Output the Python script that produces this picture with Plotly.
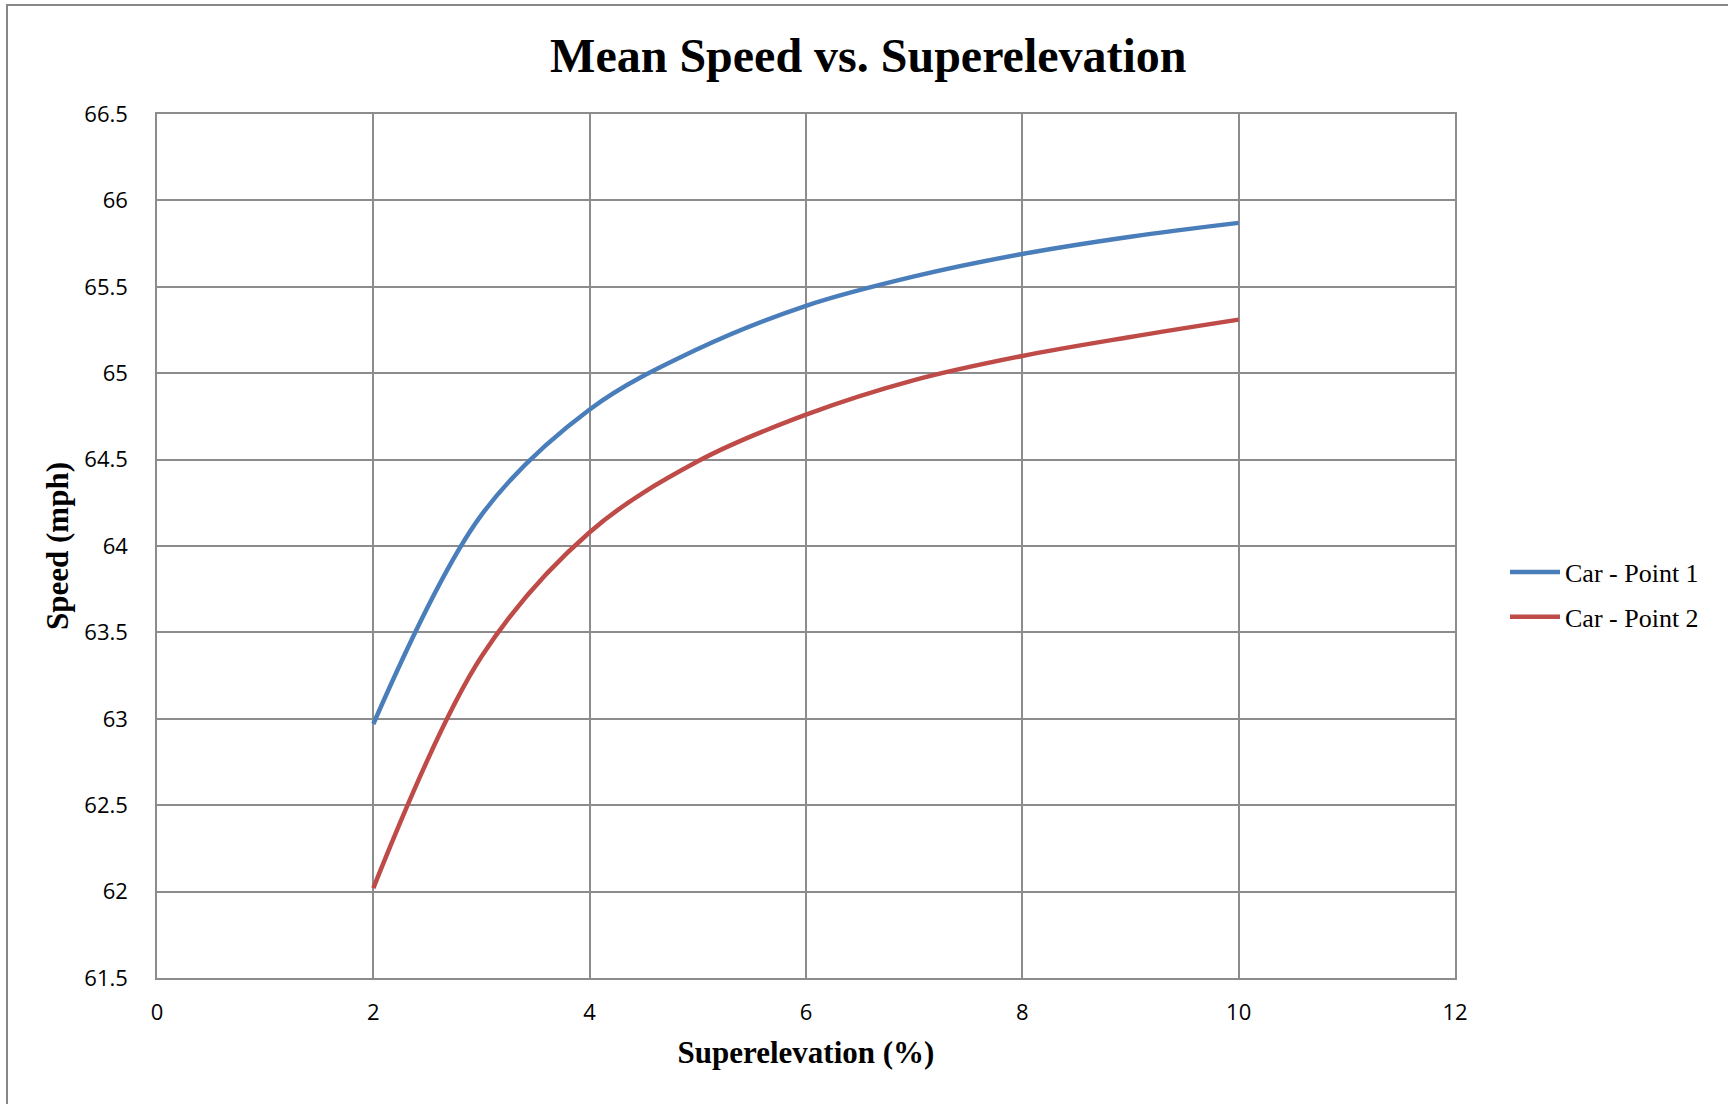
import plotly.graph_objects as go

# Superelevation (%) and mean speed (mph) for the two measurement points
superelevation = [2, 3, 4, 5, 6, 7, 8, 9, 10]
speed_point1 = [62.97, 64.18, 64.79, 65.14, 65.39, 65.56, 65.69, 65.79, 65.87]
speed_point2 = [62.02, 63.36, 64.08, 64.49, 64.76, 64.96, 65.10, 65.21, 65.31]
series_names = ["Car - Point 1", "Car - Point 2"]
series_colors = ["#4A7EBB", "#BE4B48"]

W, H = 1728, 1104
L, R, T, B = 157, 273, 114, 126
grid_color = "#8C8C8C"
serif = "Liberation Serif, Times New Roman, serif"
sans = "Open Sans, Calibri, sans-serif"

fig = go.Figure()
for i, (name, ys, col) in enumerate(zip(series_names, [speed_point1, speed_point2], series_colors)):
    fig.add_trace(go.Scatter(
        x=superelevation, y=ys, mode="lines", name=name,
        line=dict(color=col, width=4.5, shape="spline", smoothing=1.0),
        legendgroup=f"g{i}",
    ))

pw = W - L - R
ph = H - T - B
# outer chart frame
fig.add_shape(type="rect", xref="paper", yref="paper",
              x0=(7 - L) / pw, x1=(W + 4 - L) / pw,
              y0=(H - B - (H + 4)) / ph, y1=(H - B - 5) / ph,
              line=dict(color="#878787", width=2), fillcolor="rgba(0,0,0,0)", layer="below")

fig.update_layout(
    width=W, height=H,
    margin=dict(l=L, r=R, t=T, b=B, pad=0),
    paper_bgcolor="white", plot_bgcolor="white",
    title=dict(text="<b>Mean Speed vs. Superelevation</b>", x=0.5025, xref="container",
               y=1 - 55 / H, yanchor="middle", xanchor="center",
               font=dict(family=serif, size=48, color="black")),
    xaxis=dict(range=[0, 12], dtick=2, tick0=0, showgrid=True, gridcolor=grid_color, gridwidth=1.5,
               showline=True, linecolor=grid_color, linewidth=1.5, mirror=True, zeroline=False,
               ticks="", ticklabelstandoff=14,
               tickfont=dict(family=sans, size=22, color="black"),
               title=dict(text="<b>Superelevation (%)</b>", standoff=16,
                          font=dict(family=serif, size=31, color="black"))),
    yaxis=dict(range=[61.5, 66.5], dtick=0.5, tick0=61.5, showgrid=True, gridcolor=grid_color, gridwidth=1.5,
               showline=True, linecolor=grid_color, linewidth=1.5, mirror=True, zeroline=False,
               ticks="", ticklabelstandoff=23,
               tickfont=dict(family=sans, size=22, color="black"),
               title=dict(text="<b>Speed (mph)</b>", standoff=6,
                          font=dict(family=serif, size=31, color="black"))),
    legend=dict(x=(1505 - L) / pw, xanchor="left", y=(H - B - 594.5) / ph, yanchor="middle",
                font=dict(family=serif, size=26, color="black"),
                traceorder="grouped", tracegroupgap=8, bgcolor="rgba(0,0,0,0)", itemwidth=50),
    showlegend=True,
)

fig.write_html("out.html")
